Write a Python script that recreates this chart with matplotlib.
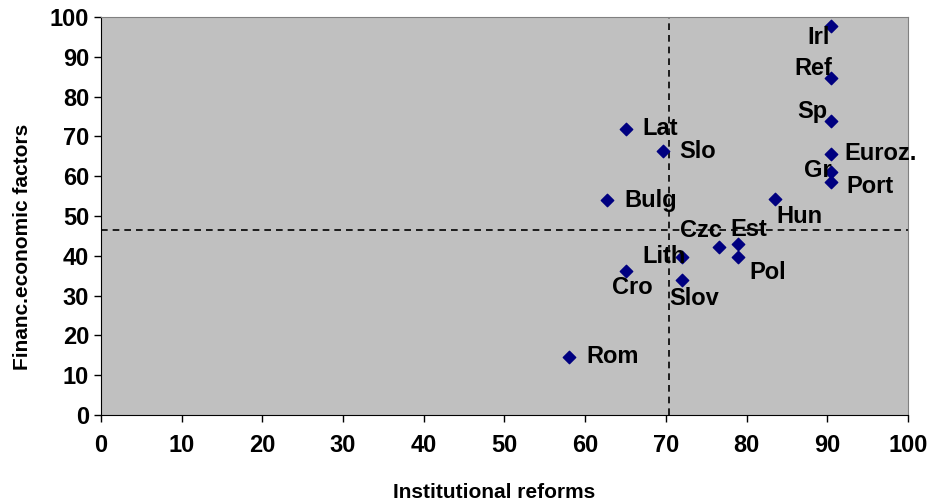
import matplotlib.pyplot as plt

# Country scores: institutional reforms (x) vs financial/economic factors (y)
countries = ["Irl", "Ref", "Sp", "Euroz.", "Gr", "Port", "Hun", "Lat", "Slo",
             "Bulg", "Czc", "Est", "Pol", "Lith", "Cro", "Slov", "Rom"]
reforms = [90.5, 90.5, 90.5, 90.5, 90.5, 90.5, 83.5, 65.0, 69.6,
           62.7, 76.6, 78.9, 78.9, 72.0, 65.0, 72.0, 58.0]
financ = [97.8, 84.6, 73.9, 65.6, 61.0, 58.6, 54.2, 71.9, 66.4,
          54.0, 42.3, 42.9, 39.8, 39.8, 36.2, 33.8, 14.6]

# label offsets in pixels (dx, dy, ha)
offsets = {
    "Irl": (-2, -12, "right"), "Ref": (1, 10, "right"), "Sp": (-4, 9, "right"),
    "Euroz.": (13, 0, "left"), "Gr": (0, 2, "right"), "Port": (15, -5, "left"),
    "Hun": (2, -17, "left"), "Lat": (17, 0, "left"), "Slo": (17, -1, "left"),
    "Bulg": (17, 0, "left"), "Czc": (-18, 16, "center"), "Est": (11, 15, "center"),
    "Pol": (12, -16, "left"), "Lith": (4, 0, "right"), "Cro": (7, -17, "center"),
    "Slov": (12, -18, "center"), "Rom": (17, 0, "left"),
}

x_cut = 70.4
y_cut = 46.5

plt.rcParams["font.family"] = ["Liberation Sans", "DejaVu Sans"]
plt.rcParams["font.weight"] = "bold"

fig = plt.figure(figsize=(9.32, 5.04), dpi=100)
ax = fig.add_axes([0.1084, 0.1766, 0.8658, 0.7897])
ax.set_facecolor("#C0C0C0")

ax.axvline(x_cut, color="black", linestyle=(0, (4, 3)), linewidth=1.2, zorder=1)
ax.axhline(y_cut, color="black", linestyle=(0, (4, 3)), linewidth=1.2, zorder=1)

ax.scatter(reforms, financ, marker="D", s=40, color="#000080", zorder=3)

for name, x, y in zip(countries, reforms, financ):
    dx, dy, ha = offsets[name]
    ax.annotate(name, (x, y), xytext=(dx, dy), textcoords="offset pixels",
                ha=ha, va="center", fontsize=17, fontweight="bold", zorder=4)

ax.set_xlim(0, 100)
ax.set_ylim(0, 100)
ax.set_xticks(range(0, 101, 10))
ax.set_yticks(range(0, 101, 10))
ax.tick_params(axis="both", labelsize=17, length=5, width=1, direction="out")
ax.tick_params(axis="x", pad=9)

ax.spines["top"].set_color("#808080")
ax.spines["right"].set_color("#808080")

ax.set_xlabel("Institutional reforms", fontsize=15, fontweight="bold")
ax.set_ylabel("Financ.economic factors", fontsize=15, fontweight="bold")
ax.xaxis.set_label_coords(0.4876, -0.170)
ax.yaxis.set_label_coords(-0.085, 0.422)

fig.savefig("out.png", dpi=100)
